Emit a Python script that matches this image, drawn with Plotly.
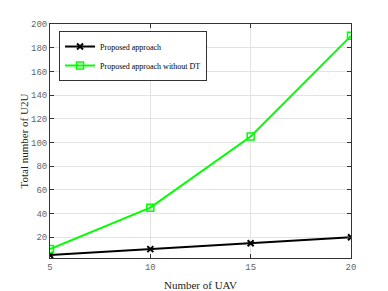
import plotly.graph_objects as go

uav = [5, 10, 15, 20]
proposed = [5, 10, 15, 20]
without_dt = [10, 45, 105, 190]

fig = go.Figure()
fig.add_trace(go.Scatter(x=uav, y=proposed, mode="lines+markers", name="Proposed approach",
                         line=dict(color="black", width=2),
                         marker=dict(symbol="x-thin", size=6, color="black", line=dict(color="black", width=2))))
fig.add_trace(go.Scatter(x=uav, y=without_dt, mode="lines+markers", name="Proposed approach without DT",
                         line=dict(color="#00ff00", width=2),
                         marker=dict(symbol="square-open", size=7, color="#00ff00", line=dict(width=1.5))))

axis_common = dict(showgrid=True, gridcolor="#e3e3e3", gridwidth=1, showline=True, linecolor="#333333",
                   linewidth=1, mirror="ticks", ticks="inside", ticklen=4, tickcolor="#333333",
                   tickfont=dict(family="Liberation Mono", size=9, color="#666666"), zeroline=False)

fig.update_layout(
    width=380, height=283,
    margin=dict(l=42, r=37, t=14, b=33),
    paper_bgcolor="white", plot_bgcolor="white",
    showlegend=True,
    legend=dict(x=0.03, y=0.97, xanchor="left", yanchor="top",
                bgcolor="white", bordercolor="#333333", borderwidth=1,
                font=dict(family="Liberation Serif", size=8, color="black"),
                tracegroupgap=0, itemwidth=30),
    xaxis=dict(range=[5, 20], tickvals=[5, 10, 15, 20], automargin=False,
               title=dict(text="Number of UAV", font=dict(family="Liberation Serif", size=11, color="#222222"), standoff=13),
               **axis_common),
    yaxis=dict(range=[2.5, 200], tickvals=[20, 40, 60, 80, 100, 120, 140, 160, 180, 200],
               title=dict(text="Total number of U2U", font=dict(family="Liberation Serif", size=11, color="#222222"), standoff=0),
               **axis_common),
)

fig.write_html("out.html")
